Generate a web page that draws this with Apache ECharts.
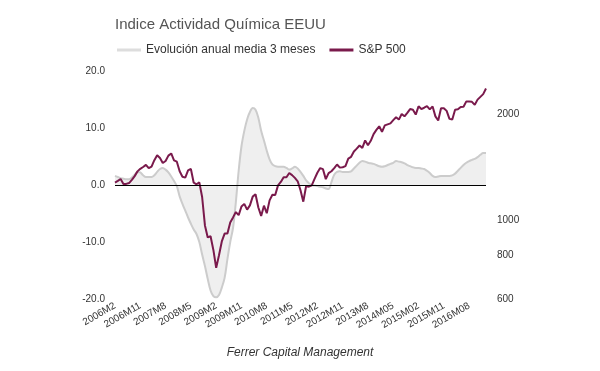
<!DOCTYPE html>
<html><head><meta charset="utf-8">
<script src="https://cdn.jsdelivr.net/npm/echarts@6/dist/echarts.min.js"></script>
<style>html,body{margin:0;padding:0;background:#fff}#c{width:600px;height:371px}</style>
</head><body><div id="c"></div>
<script>
// Monthly categories 2006M2 .. 2017M2 (zero-padded months from 2014 on, as in the source)
const startYear = 2006, startMonth = 2, nMonths = 133;
const categories = [];
for (let k = 0; k < nMonths; k++) {
  const t = startMonth - 1 + k, y = startYear + Math.floor(t / 12), m = t % 12 + 1;
  categories.push(y + 'M' + (y >= 2014 && m < 10 ? '0' + m : m));
}

const titleText = 'Indice Actividad Química EEUU';
const seriesNames = ['Evolución anual media 3 meses', 'S&P 500'];
const sourceText = 'Ferrer Capital Management';

// Evolución anual media 3 meses (%)
const chemActivity = [
  1.6, 1.4, 1.2, 1.1, 1.0, 1.0, 1.3, 1.8, 2.3, 2.2, 1.7, 1.4,
  1.4, 1.4, 1.7, 2.3, 2.8, 3.0, 2.7, 2.2, 1.5, 0.7, -0.2, -2.0,
  -3.3, -4.5, -5.7, -6.8, -7.8, -8.6, -10.0, -12.2, -14.2, -16.5, -18.5, -19.5,
  -19.7, -19.3, -18.0, -16.3, -13.0, -10.0, -7.5, -3.0, 2.5, 6.8, 9.5, 11.5,
  12.8, 13.5, 13.2, 11.8, 9.5, 7.8, 6.0, 4.5, 3.6, 3.3, 3.2, 3.2,
  3.2, 3.0, 2.7, 2.9, 3.2, 2.9, 2.3, 1.6, 0.8, 0.3, 0.0, -0.1,
  -0.2, -0.3, -0.4, -0.6, -0.7, 0.5, 1.8, 2.3, 2.4, 2.3, 2.3, 2.3,
  2.4, 2.9, 3.4, 3.9, 4.2, 4.1, 3.9, 3.8, 3.7, 3.5, 3.3, 3.2,
  3.3, 3.5, 3.7, 3.9, 4.2, 4.1, 4.0, 3.8, 3.5, 3.3, 3.1, 3.0,
  3.0, 2.9, 2.8, 2.5, 2.1, 1.6, 1.4, 1.5, 1.6, 1.6, 1.6, 1.6,
  1.7, 2.0, 2.5, 3.0, 3.5, 3.9, 4.2, 4.4, 4.6, 4.9, 5.3, 5.6, 5.6
];

// S&P 500 (monthly close)
const sp500 = [
  1281, 1295, 1311, 1270, 1270, 1277, 1304, 1336, 1378, 1401, 1418,
  1438, 1407, 1421, 1482, 1531, 1503, 1455, 1474, 1527, 1549, 1481, 1468,
  1379, 1331, 1323, 1386, 1400, 1280, 1267, 1283, 1166, 969, 896, 903,
  826, 735, 798, 873, 919, 919, 987, 1021, 1057, 1036, 1096, 1115,
  1074, 1104, 1169, 1187, 1089, 1031, 1102, 1049, 1141, 1183, 1181, 1258,
  1286, 1327, 1326, 1364, 1345, 1321, 1292, 1219, 1131, 1253, 1247, 1258,
  1312, 1366, 1408, 1398, 1310, 1362, 1379, 1407, 1441, 1412, 1416, 1426,
  1498, 1515, 1569, 1598, 1631, 1606, 1686, 1633, 1682, 1757, 1806, 1848,
  1783, 1859, 1872, 1884, 1924, 1960, 1931, 2003, 1972, 2018, 2068, 2059,
  1995, 2105, 2068, 2086, 2107, 2063, 2104, 1972, 1920, 2079, 2080, 2044,
  1940, 1932, 2060, 2065, 2097, 2099, 2174, 2171, 2168, 2126, 2199, 2239,
  2279, 2364
];

const leftTicks = [-20, -10, 0, 10, 20];
const rightTicks = [600, 800, 1000, 2000];

const FONT = '"Liberation Sans", Arial, Helvetica, sans-serif';
const chart = echarts.init(document.getElementById('c'), null, {renderer: 'canvas'});
chart.setOption({
  animation: false,
  backgroundColor: '#fff',
  textStyle: {fontFamily: FONT},
  title: {
    text: titleText, left: 110, top: 12,
    textStyle: {fontFamily: FONT, fontSize: 15, fontWeight: 'normal', color: '#555'}
  },
  legend: {
    left: 112, top: 39, itemWidth: 24, itemHeight: 3, itemGap: 14,
    textStyle: {fontFamily: FONT, fontSize: 12, color: '#333'},
    data: [
      {name: seriesNames[0], icon: 'rect', itemStyle: {color: '#dddddd'}},
      {name: seriesNames[1], icon: 'rect', itemStyle: {color: '#7a1a4c'}}
    ]
  },
  grid: {left: 115, right: 114, top: 71, bottom: 72, containLabel: false},
  xAxis: {
    type: 'category', data: categories, boundaryGap: false,
    axisLine: {show: false}, axisTick: {show: false}, splitLine: {show: false},
    axisLabel: {interval: 8, rotate: 30, fontSize: 10, color: '#333', fontFamily: FONT, margin: 6}
  },
  yAxis: [
    {
      type: 'value', min: leftTicks[0], max: leftTicks[leftTicks.length - 1], interval: 10,
      axisLine: {show: false}, axisTick: {show: false}, splitLine: {show: false},
      axisLabel: {fontSize: 10, color: '#333', fontFamily: FONT, margin: 10, formatter: v => v.toFixed(1)}
    },
    {
      type: 'log', logBase: 10, min: 600, max: 2650, position: 'right',
      axisLine: {show: false}, axisTick: {show: false}, splitLine: {show: false},
      axisLabel: {fontSize: 10, color: '#333', fontFamily: FONT, margin: 11, customValues: rightTicks,
        formatter: v => String(Math.round(v))}
    }
  ],
  series: [
    {
      name: seriesNames[0], type: 'line', yAxisIndex: 0, data: chemActivity,
      smooth: 0.35, showSymbol: false, symbol: 'none',
      lineStyle: {color: '#cccccc', width: 2},
      itemStyle: {color: '#dddddd'},
      areaStyle: {color: '#efefef', origin: 0, opacity: 1},
      markLine: {
        silent: true, symbol: 'none', label: {show: false},
        lineStyle: {color: '#000', width: 1, type: 'solid'},
        data: [{yAxis: 0}]
      },
      z: 2
    },
    {
      name: seriesNames[1], type: 'line', yAxisIndex: 1, data: sp500,
      showSymbol: false, symbol: 'none',
      lineStyle: {color: '#7a1a4c', width: 2},
      itemStyle: {color: '#7a1a4c'},
      z: 3
    }
  ],
  graphic: [{
    type: 'text', left: 'center', top: 347,
    style: {text: sourceText, font: 'italic 12px ' + FONT, fill: '#333'}
  }]
});
</script></body></html>
